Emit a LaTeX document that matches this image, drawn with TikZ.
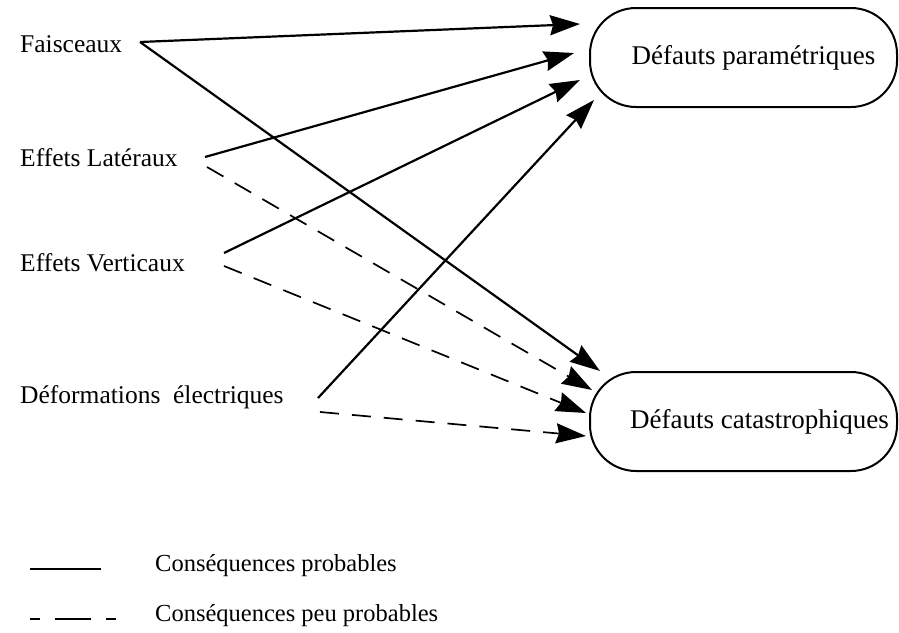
\documentclass[tikz,border=0pt]{standalone}
\usepackage{fontspec}
\setmainfont{Liberation Serif}
\usetikzlibrary{arrows.meta}
\begin{document}
\begin{tikzpicture}[x=1pt,y=-1pt,
  lbl/.style={anchor=west,inner sep=0pt,font=\fontsize{25.5}{29}\selectfont},
  leg/.style={anchor=west,inner sep=0pt,font=\fontsize{24.5}{28}\selectfont},
  outcome/.style={draw,line width=2pt,rounded corners=46pt,minimum width=307pt,minimum height=99pt,inner sep=0pt,font=\fontsize{27}{31}\selectfont},
  tip/.style={-{Stealth[length=30pt,width=20pt,inset=3pt]}},
  likely/.style={line width=2.2pt,tip},
  unlikely/.style={line width=1.7pt,dash pattern=on 19pt off 13pt,tip}]
\useasboundingbox (0,0) rectangle (899,632);
% causes
\node[lbl] (fais) at (20,44) {Faisceaux};
\node[lbl] (lat) at (20,158) {Effets Latéraux};
\node[lbl] (vert) at (20,263) {Effets Verticaux};
\node[lbl] (defo) at (20,397) {Déformations\ \ électriques};
% consequences
\node[outcome] (param) at (743.5,57.5) {\hspace*{20pt}Défauts paramétriques};
\node[outcome] (cata) at (743.5,421.5) {\hspace*{32pt}Défauts catastrophiques};
% line ends
\coordinate (faisA) at (140,42);
\coordinate (latA) at (205,157);
\coordinate (latB) at (207,167);
\coordinate (vertA) at (224,253);
\coordinate (vertB) at (224,266);
\coordinate (defoA) at (318,398);
\coordinate (defoB) at (320,412);
\coordinate (p1) at (580,24);
\coordinate (p2) at (574,53);
\coordinate (p3) at (580,80);
\coordinate (p4) at (594,100);
\coordinate (c1) at (600,371);
\coordinate (c2) at (592,390);
\coordinate (c3) at (586,413);
\coordinate (c4) at (586,436);
% probable consequences
\draw[likely] (faisA) -- (p1);
\draw[likely] (latA) -- (p2);
\draw[likely] (vertA) -- (p3);
\draw[likely] (defoA) -- (p4);
\draw[likely] (faisA) -- (c1);
% unlikely consequences
\draw[unlikely] (latB) -- (c2);
\draw[unlikely] (vertB) -- (c3);
\draw[unlikely] (defoB) -- (c4);
% legend
\coordinate (l1a) at (30,569);
\coordinate (l1b) at (101,569);
\draw[line width=1.8pt] (l1a) -- (l1b);
\node[leg] (leg1) at (155,566) {Conséquences probables};
\coordinate (l2a) at (30,619);
\coordinate (l2b) at (116,619);
\draw[line width=1.8pt,dash pattern=on 10pt off 15pt on 36pt off 15pt on 10pt] (l2a) -- (l2b);
\node[leg] (leg2) at (155,616) {Conséquences peu probables};
\end{tikzpicture}
\end{document}
